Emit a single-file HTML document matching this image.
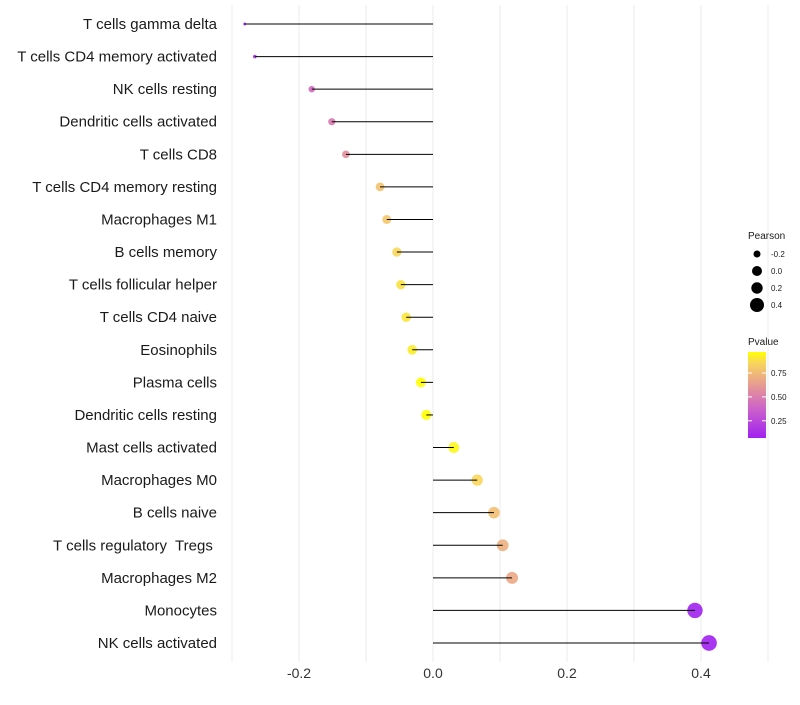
<!DOCTYPE html>
<html><head><meta charset="utf-8"><style>
body{margin:0;background:#fff;font-family:"Liberation Sans",sans-serif}
</style></head><body>
<svg id="c" width="800" height="700" xmlns="http://www.w3.org/2000/svg"></svg>
<script>
const categories=["T cells gamma delta","T cells CD4 memory activated","NK cells resting","Dendritic cells activated","T cells CD8","T cells CD4 memory resting","Macrophages M1","B cells memory","T cells follicular helper","T cells CD4 naive","Eosinophils","Plasma cells","Dendritic cells resting","Mast cells activated","Macrophages M0","B cells naive","T cells regulatory  Tregs ","Macrophages M2","Monocytes","NK cells activated"];
const pearson=[-0.281,-0.266,-0.181,-0.151,-0.130,-0.079,-0.069,-0.054,-0.048,-0.040,-0.031,-0.018,-0.010,0.031,0.066,0.091,0.104,0.118,0.391,0.412];
const pvalue=[0.12,0.18,0.42,0.48,0.58,0.78,0.80,0.86,0.89,0.90,0.92,0.97,0.98,0.95,0.86,0.77,0.71,0.68,0.08,0.07];
const xTicks=[-0.2,0,0.2,0.4];
const xTickLabels=["-0.2","0.0","0.2","0.4"];
const sizeLegend=[-0.2,0.0,0.2,0.4];
const pLegend=[0.25,0.5,0.75];

const NS="http://www.w3.org/2000/svg";
const svg=document.getElementById('c');
function el(t,a,p){const e=document.createElementNS(NS,t);for(const k in a)e.setAttribute(k,a[k]);(p||svg).appendChild(e);return e;}
const x=v=>433+v*670;
const y=i=>24+i*(643-24)/(categories.length-1);
const r=v=>Math.sqrt(Math.max(2.25+(v+0.28)*85,1));
const stops=[[0,[160,32,240]],[0.35,[205,100,200]],[0.55,[225,140,160]],[0.75,[240,185,120]],[0.88,[248,215,90]],[1,[255,255,0]]];
const pmin=0.07,pmax=0.97;
function col(p){let t=Math.min(1,Math.max(0,(p-pmin)/(pmax-pmin)));for(let i=1;i<stops.length;i++){if(t<=stops[i][0]){const a=stops[i-1],b=stops[i],f=(t-a[0])/(b[0]-a[0]);const c=a[1].map((v,j)=>Math.round(v+(b[1][j]-v)*f));return `rgb(${c})`;}}return 'rgb(255,255,0)';}

for(let g=-0.3;g<=0.51;g+=0.1){const gl=el('line',{x1:x(g),x2:x(g),y1:5,y2:662,stroke:'#ebebeb','stroke-width':1});

}
xTicks.forEach((t,i)=>{const tx=el('text',{x:x(t),y:678,'text-anchor':'middle','font-size':14,fill:'#333'});tx.textContent=xTickLabels[i];

});
categories.forEach((c,i)=>{
 const t=el('text',{x:217,y:y(i)+5,'text-anchor':'end','font-size':15,fill:'#1a1a1a','xml:space':'preserve',style:'white-space:pre'});t.textContent=c;
 
 
 const cc=el('circle',{cx:x(pearson[i]),cy:y(i),r:r(pearson[i]),fill:col(pvalue[i]),'fill-opacity':0.9});
 
 
 const l=el('line',{x1:x(pearson[i]),x2:x(0),y1:y(i),y2:y(i),stroke:'#000','stroke-width':1});
 
 
});
let t=el('text',{x:748,y:239,'font-size':10,fill:'#1a1a1a'});t.textContent='Pearson';

const lr=[3.5,5,5.7,7];
sizeLegend.forEach((v,i)=>{const yy=254+i*17;const c=el('circle',{cx:757,cy:yy,r:lr[i],fill:'#000'});

const tt=el('text',{x:771,y:yy+3,'font-size':8,fill:'#1a1a1a'});tt.textContent=v.toFixed(1);
});
t=el('text',{x:748,y:345,'font-size':10,fill:'#1a1a1a'});t.textContent='Pvalue';

const defs=el('defs',{});const lg=el('linearGradient',{id:'g',x1:0,y1:1,x2:0,y2:0},defs);
stops.forEach(s=>el('stop',{offset:s[0],'stop-color':`rgb(${s[1]})`},lg));
const bar=el('rect',{x:748,y:352,width:18,height:86,fill:'url(#g)'});

pLegend.forEach(p=>{const yy=438-(p-pmin)/(pmax-pmin)*86;
el('line',{x1:748,x2:752,y1:yy,y2:yy,stroke:'#fff'});el('line',{x1:762,x2:766,y1:yy,y2:yy,stroke:'#fff'});
const tt=el('text',{x:771,y:yy+3,'font-size':8,fill:'#1a1a1a'});tt.textContent=p.toFixed(2);
});
</script>
</body></html>
